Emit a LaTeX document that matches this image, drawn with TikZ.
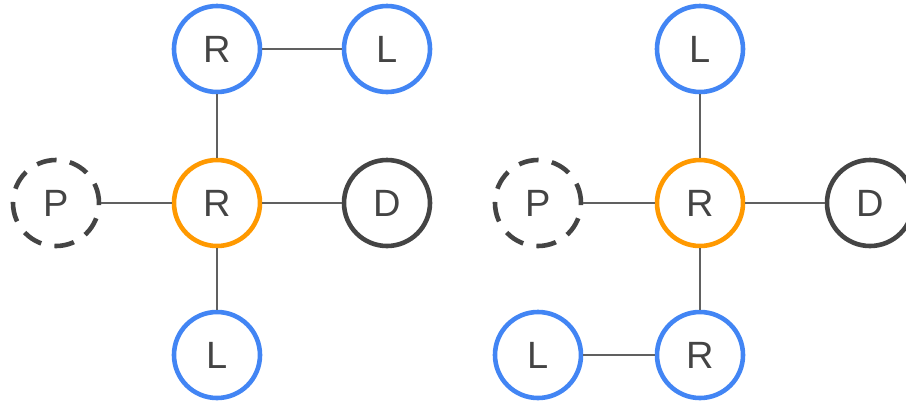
\documentclass[tikz,border=0pt]{standalone}
\usepackage{fontspec}
\setmainfont{Liberation Sans}
\definecolor{cblue}{HTML}{4285F4}
\definecolor{corange}{HTML}{FF9900}
\definecolor{cdark}{HTML}{444444}
\definecolor{cline}{HTML}{606060}
\definecolor{ctext}{HTML}{444444}
\begin{document}
\begin{tikzpicture}[x=1pt,y=-1pt,
  vert/.style={circle,minimum size=86pt,inner sep=0pt,line width=4.6pt,fill=white,
    text=ctext,font=\fontsize{38}{38}\selectfont},
  leaf/.style={vert,draw=cblue},
  root/.style={vert,draw=corange},
  done/.style={vert,draw=cdark},
  parent/.style={vert,draw=cdark,dash pattern=on 20pt off 13.5pt},
  edge/.style={cline,line width=2pt}]
\useasboundingbox (0,0) rectangle (906,400);
% left tree
\node[leaf]   (aRt) at (217,49)  {R};
\node[leaf]   (aLt) at (387,49)  {L};
\node[parent] (aP)  at (56,203)  {P};
\node[root]   (aR)  at (217,203) {R};
\node[done]   (aD)  at (387,203) {D};
\node[leaf]   (aLb) at (217,355) {L};
\draw[edge] (aRt) -- (aLt);
\draw[edge] (aRt) -- (aR);
\draw[edge] (aP) -- (aR);
\draw[edge] (aR) -- (aD);
\draw[edge] (aR) -- (aLb);
% right tree
\node[leaf]   (bLt) at (700,49)  {L};
\node[parent] (bP)  at (538,203) {P};
\node[root]   (bR)  at (700,203) {R};
\node[done]   (bD)  at (870,203) {D};
\node[leaf]   (bLb) at (538,355) {L};
\node[leaf]   (bRb) at (700,355) {R};
\draw[edge] (bLt) -- (bR);
\draw[edge] (bP) -- (bR);
\draw[edge] (bR) -- (bD);
\draw[edge] (bR) -- (bRb);
\draw[edge] (bLb) -- (bRb);
\end{tikzpicture}
\end{document}
